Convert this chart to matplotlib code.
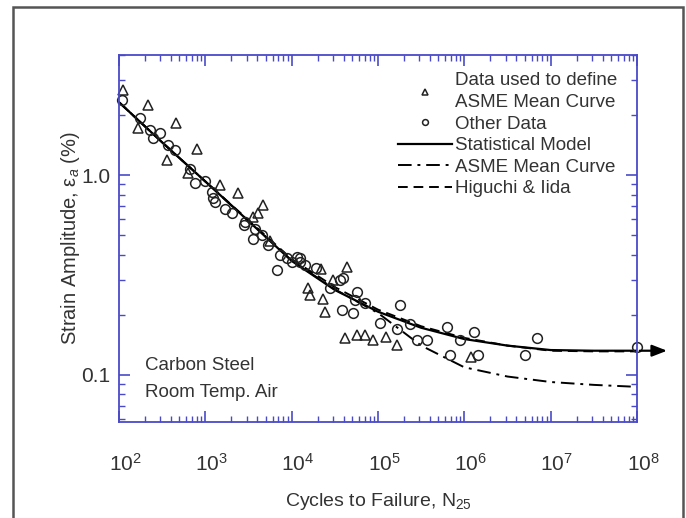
import matplotlib
matplotlib.use("Agg")
import matplotlib.pyplot as plt
from matplotlib.patches import Rectangle
from matplotlib.transforms import ScaledTranslation
from matplotlib.ticker import LogLocator, NullFormatter, FixedLocator, FixedFormatter

plt.rcParams['font.family'] = ['Liberation Sans', 'DejaVu Sans']
plt.rcParams['mathtext.fontset'] = 'custom'
plt.rcParams['mathtext.rm'] = 'Liberation Sans'
plt.rcParams['mathtext.it'] = 'Liberation Sans:italic'

# ---- data ----
tri_N = [111, 217, 166, 457, 795, 355, 630, 1480, 2400, 4650, 3560, 4070, 5600,
         15500, 16300, 22000, 23000, 24500, 30000, 43600, 41700, 57000, 71000,
         87000, 125000, 165000, 1.2e6]
tri_e = [2.66, 2.24, 1.72, 1.82, 1.36, 1.19, 1.03, 0.89, 0.81, 0.71, 0.62, 0.65, 0.47,
         0.272, 0.25, 0.34, 0.24, 0.206, 0.30, 0.347, 0.153, 0.158, 0.158,
         0.149, 0.155, 0.141, 0.123]

circ_N = [108, 175, 228, 248, 299, 370, 446, 664, 759, 990, 1190, 1230, 1290, 1690, 2040,
          2770, 2880, 3560, 3760, 4530, 5320, 6760, 7330, 8830, 10100, 11500, 12400, 12500,
          14300, 19100, 27600, 36000, 39000, 54000, 57000, 38000, 52000, 71000, 178000,
          105000, 166000, 234000, 282000, 372000, 630000, 680000, 890000, 1.3e6, 1.45e6,
          6.9e6, 5.0e6, 1.0e8]
circ_e = [2.37, 1.93, 1.68, 1.53, 1.62, 1.41, 1.33, 1.08, 0.91, 0.93, 0.82, 0.77, 0.73, 0.68,
          0.65, 0.56, 0.58, 0.48, 0.54, 0.50, 0.447, 0.335, 0.40, 0.385, 0.367, 0.39, 0.385,
          0.367, 0.355, 0.343, 0.272, 0.30, 0.306, 0.237, 0.26, 0.21, 0.204, 0.23, 0.223,
          0.182, 0.17, 0.18, 0.149, 0.149, 0.174, 0.126, 0.149, 0.164, 0.126,
          0.153, 0.126, 0.137]

curve_N = [1e2, 10**2.5, 1e3, 10**3.5, 1e4, 10**4.5, 1e5, 10**5.5, 1e6, 10**6.5, 1e7, 10**7.5, 1e8]
stat_e = [2.32, 1.46, 0.93, 0.589, 0.372, 0.266, 0.207, 0.172, 0.151, 0.140, 0.133, 0.132, 0.132]
asme_e = [2.32, 1.46, 0.93, 0.589, 0.374, 0.268, 0.204, 0.140, 0.109, 0.098, 0.092, 0.089, 0.087]
higu_e = [2.32, 1.46, 0.93, 0.595, 0.38, 0.275, 0.212, 0.175, 0.153, 0.140, 0.132, 0.131, 0.131]

x_ticks = [1e2, 1e3, 1e4, 1e5, 1e6, 1e7, 1e8]
y_ticks = [0.1, 1.0]
y_tick_labels = ['0.1', '1.0']

spine_col = '#4a4ac8'
text_col = '#333333'

fig = plt.figure(figsize=(6.86, 5.18), dpi=100)
ax = fig.add_axes([119/686, 96/518, 518/686, 367/518])

ax.set_xscale('log')
ax.set_yscale('log')
ax.set_xlim(1e2, 1e8)
ax.set_ylim(0.058, 4.0)

ax.plot(curve_N, stat_e, '-', color='black', lw=1.6, label='Statistical Model')
ax.plot(curve_N, asme_e, color='black', lw=1.4, linestyle=(0, (7, 3, 1.5, 3)), label='ASME Mean Curve')
ax.plot(curve_N, higu_e, color='black', lw=1.4, linestyle=(0, (5, 3)), label='Higuchi & Iida')

ax.plot(tri_N, tri_e, linestyle='none', marker='^', ms=7, mfc='none', mec='#222222', mew=1.1,
        label='Data used to define\nASME Mean Curve', clip_on=False)
ax.plot(circ_N, circ_e, linestyle='none', marker='o', ms=7, mfc='none', mec='#222222', mew=1.1,
        label='Other Data', clip_on=False)

ax.annotate('', xy=(2.4e8, stat_e[-1]), xytext=(1e8, stat_e[-1]),
            arrowprops=dict(arrowstyle='-|>,head_length=0.9,head_width=0.35', color='black', lw=1.6),
            annotation_clip=False)

handles, labels = ax.get_legend_handles_labels()
order = [3, 4, 0, 1, 2]
leg = ax.legend([handles[i] for i in order], [labels[i] for i in order],
                loc='upper left', bbox_to_anchor=(0.52, 0.978), frameon=False,
                handlelength=2.9, handletextpad=0.15, labelspacing=0.24, borderpad=0,
                markerscale=0.6, fontsize=13.5)
for t in leg.get_texts():
    t.set_color(text_col)
    t.set_linespacing(1.35)

for s in ax.spines.values():
    s.set_color(spine_col)
    s.set_linewidth(1.3)

ax.xaxis.set_major_locator(FixedLocator(x_ticks))
ax.xaxis.set_minor_locator(LogLocator(base=10, subs=range(2, 10), numticks=20))
ax.xaxis.set_minor_formatter(NullFormatter())
ax.yaxis.set_major_locator(FixedLocator(y_ticks))
ax.yaxis.set_major_formatter(FixedFormatter(y_tick_labels))
ax.yaxis.set_minor_locator(LogLocator(base=10, subs=range(2, 10), numticks=20))
ax.yaxis.set_minor_formatter(NullFormatter())

ax.tick_params(which='both', direction='in', top=True, right=True, colors=spine_col,
               labelcolor=text_col, labelsize=15)
ax.tick_params(which='major', length=8, width=1.2)
ax.tick_params(which='minor', length=4, width=1.0)
ax.tick_params(axis='x', which='major', pad=22)
ax.tick_params(axis='y', which='major', pad=6)

shift = ScaledTranslation(6/100, 0, fig.dpi_scale_trans)
for lbl in ax.get_xticklabels():
    lbl.set_transform(lbl.get_transform() + shift)

ax.set_xlabel('Cycles to Failure, N$_{25}$', fontsize=14, color=text_col, labelpad=12)
ax.set_ylabel('Strain Amplitude, ε$_a$ (%)', fontsize=14.5, color=text_col, labelpad=0)

ax.text(0.05, 0.155, 'Carbon Steel', transform=ax.transAxes, fontsize=13.5, color=text_col, va='center')
ax.text(0.05, 0.08, 'Room Temp. Air', transform=ax.transAxes, fontsize=13.5, color=text_col, va='center')

fig.add_artist(Rectangle((13/686, -0.1), 670/686, 1.1 - 7/518, transform=fig.transFigure,
                         fill=False, edgecolor='#555555', lw=1.8))

fig.savefig('out.png', dpi=100, facecolor='white')
